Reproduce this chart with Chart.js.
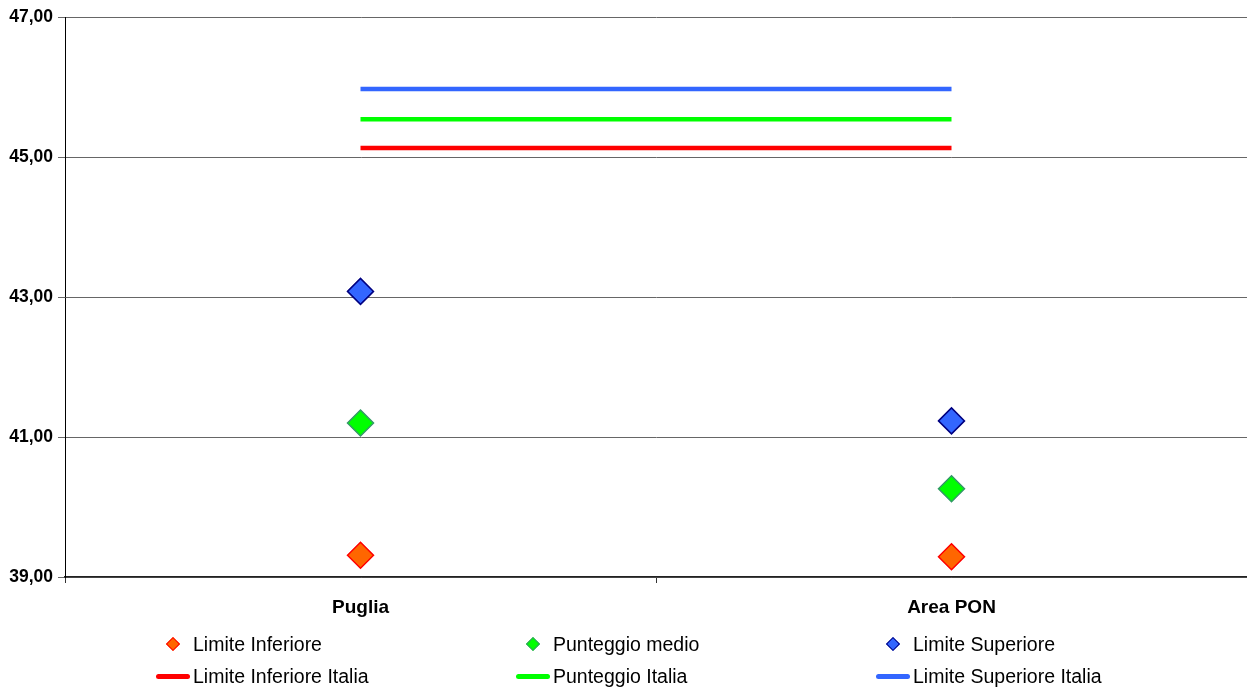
<!DOCTYPE html>
<html>
<head>
<meta charset="utf-8">
<script src="https://cdn.jsdelivr.net/npm/chart.js@4/dist/chart.umd.min.js"></script>
<style>
  html, body { margin: 0; padding: 0; background: #fff; overflow: hidden; }
  #wrap { position: relative; width: 1247px; height: 688px; }
  #c { display: block; }
  #legend { position: absolute; left: 0; top: 0; width: 1247px; height: 688px; pointer-events: none;
            font-family: "Liberation Sans", Arial, sans-serif; font-size: 19.5px; color: #000; }
  .item { position: absolute; height: 24px; line-height: 24px; white-space: nowrap; }
  .dia { position: absolute; width: 10px; height: 10px; transform: rotate(45deg); box-sizing: border-box; border: 1.5px solid; }
  .ln { position: absolute; height: 5px; border-radius: 3px; }
</style>
</head>
<body>
<div id="wrap">
  <canvas id="c" width="1247" height="688"></canvas>
  <div id="legend"></div>
</div>
<script>
// values
const categories = ["Puglia", "Area PON"];
const limiteInferiore = [39.31, 39.29];
const punteggioMedio = [41.20, 40.26];
const limiteSuperiore = [43.08, 41.23];
const limiteInferioreItalia = [45.13, 45.13];
const punteggioItalia = [45.54, 45.54];
const limiteSuperioreItalia = [45.97, 45.97];
const yTicks = [39, 41, 43, 45, 47];

const fmt = (v) => v.toFixed(2).replace(".", ",");

function pointSet(label, data, fill, border) {
  return {
    label, data, showLine: false,
    pointStyle: "rectRot", pointRadius: 13, pointHoverRadius: 13,
    pointBackgroundColor: fill, pointBorderColor: border, pointBorderWidth: 1.5,
    backgroundColor: fill, borderColor: border, kind: "point",
  };
}
function lineSet(label, data, color) {
  return {
    label, data, borderColor: color, backgroundColor: color,
    borderWidth: 4.5, pointRadius: 0, fill: false, tension: 0, kind: "line",
  };
}

const datasets = [
  pointSet("Limite Inferiore", limiteInferiore, "#FF6600", "#FF0000"),
  pointSet("Punteggio medio", punteggioMedio, "#00FF00", "#339966"),
  pointSet("Limite Superiore", limiteSuperiore, "#3366FF", "#000080"),
  lineSet("Limite Inferiore Italia", limiteInferioreItalia, "#FF0000"),
  lineSet("Punteggio Italia", punteggioItalia, "#00FF00"),
  lineSet("Limite Superiore Italia", limiteSuperioreItalia, "#3366FF"),
];

new Chart(document.getElementById("c").getContext("2d"), {
  type: "line",
  data: { labels: categories, datasets },
  options: {
    responsive: false,
    animation: false,
    devicePixelRatio: 1,
    layout: { autoPadding: false, padding: { top: 17, left: 0, right: 0, bottom: 0 } },
    plugins: { legend: { display: false }, tooltip: { enabled: false } },
    scales: {
      x: {
        type: "category",
        offset: true,
        grid: { offset: true, drawOnChartArea: false, tickLength: 6, color: "#333" },
        border: { color: "#222", width: 1.5 },
        ticks: { color: "#000", padding: 13, font: { family: "Liberation Sans", size: 19, weight: "bold" } },
        afterFit: (s) => { s.height = 111; },
      },
      y: {
        min: 39, max: 47,
        afterBuildTicks: (s) => { s.ticks = yTicks.map((v) => ({ value: v })); },
        grid: { color: "#666", tickLength: 7 },
        border: { color: "#000" },
        ticks: { color: "#000", padding: 5, callback: (v) => fmt(v),
                 font: { family: "Liberation Sans", size: 17.5, weight: "bold" } },
        afterFit: (s) => { s.width = 65; },
      },
    },
  },
});

// legend in a 3 x 2 grid, built from the datasets
const legend = document.getElementById("legend");
const colX = [193, 553, 913];
const rowY = [632, 664];
datasets.forEach((ds, i) => {
  const col = i % 3, row = Math.floor(i / 3);
  const item = document.createElement("div");
  item.className = "item";
  item.style.left = colX[col] + "px";
  item.style.top = rowY[row] + "px";
  item.textContent = ds.label;
  legend.appendChild(item);
  const m = document.createElement("div");
  if (ds.kind === "point") {
    m.className = "dia";
    m.style.left = (colX[col] - 25) + "px";
    m.style.top = (rowY[row] + 7) + "px";
    m.style.background = ds.pointBackgroundColor;
    m.style.borderColor = ds.pointBorderColor;
  } else {
    m.className = "ln";
    m.style.left = (colX[col] - 37) + "px";
    m.style.width = "34px";
    m.style.top = (rowY[row] + 10) + "px";
    m.style.background = ds.borderColor;
  }
  legend.appendChild(m);
});
</script>
</body>
</html>
